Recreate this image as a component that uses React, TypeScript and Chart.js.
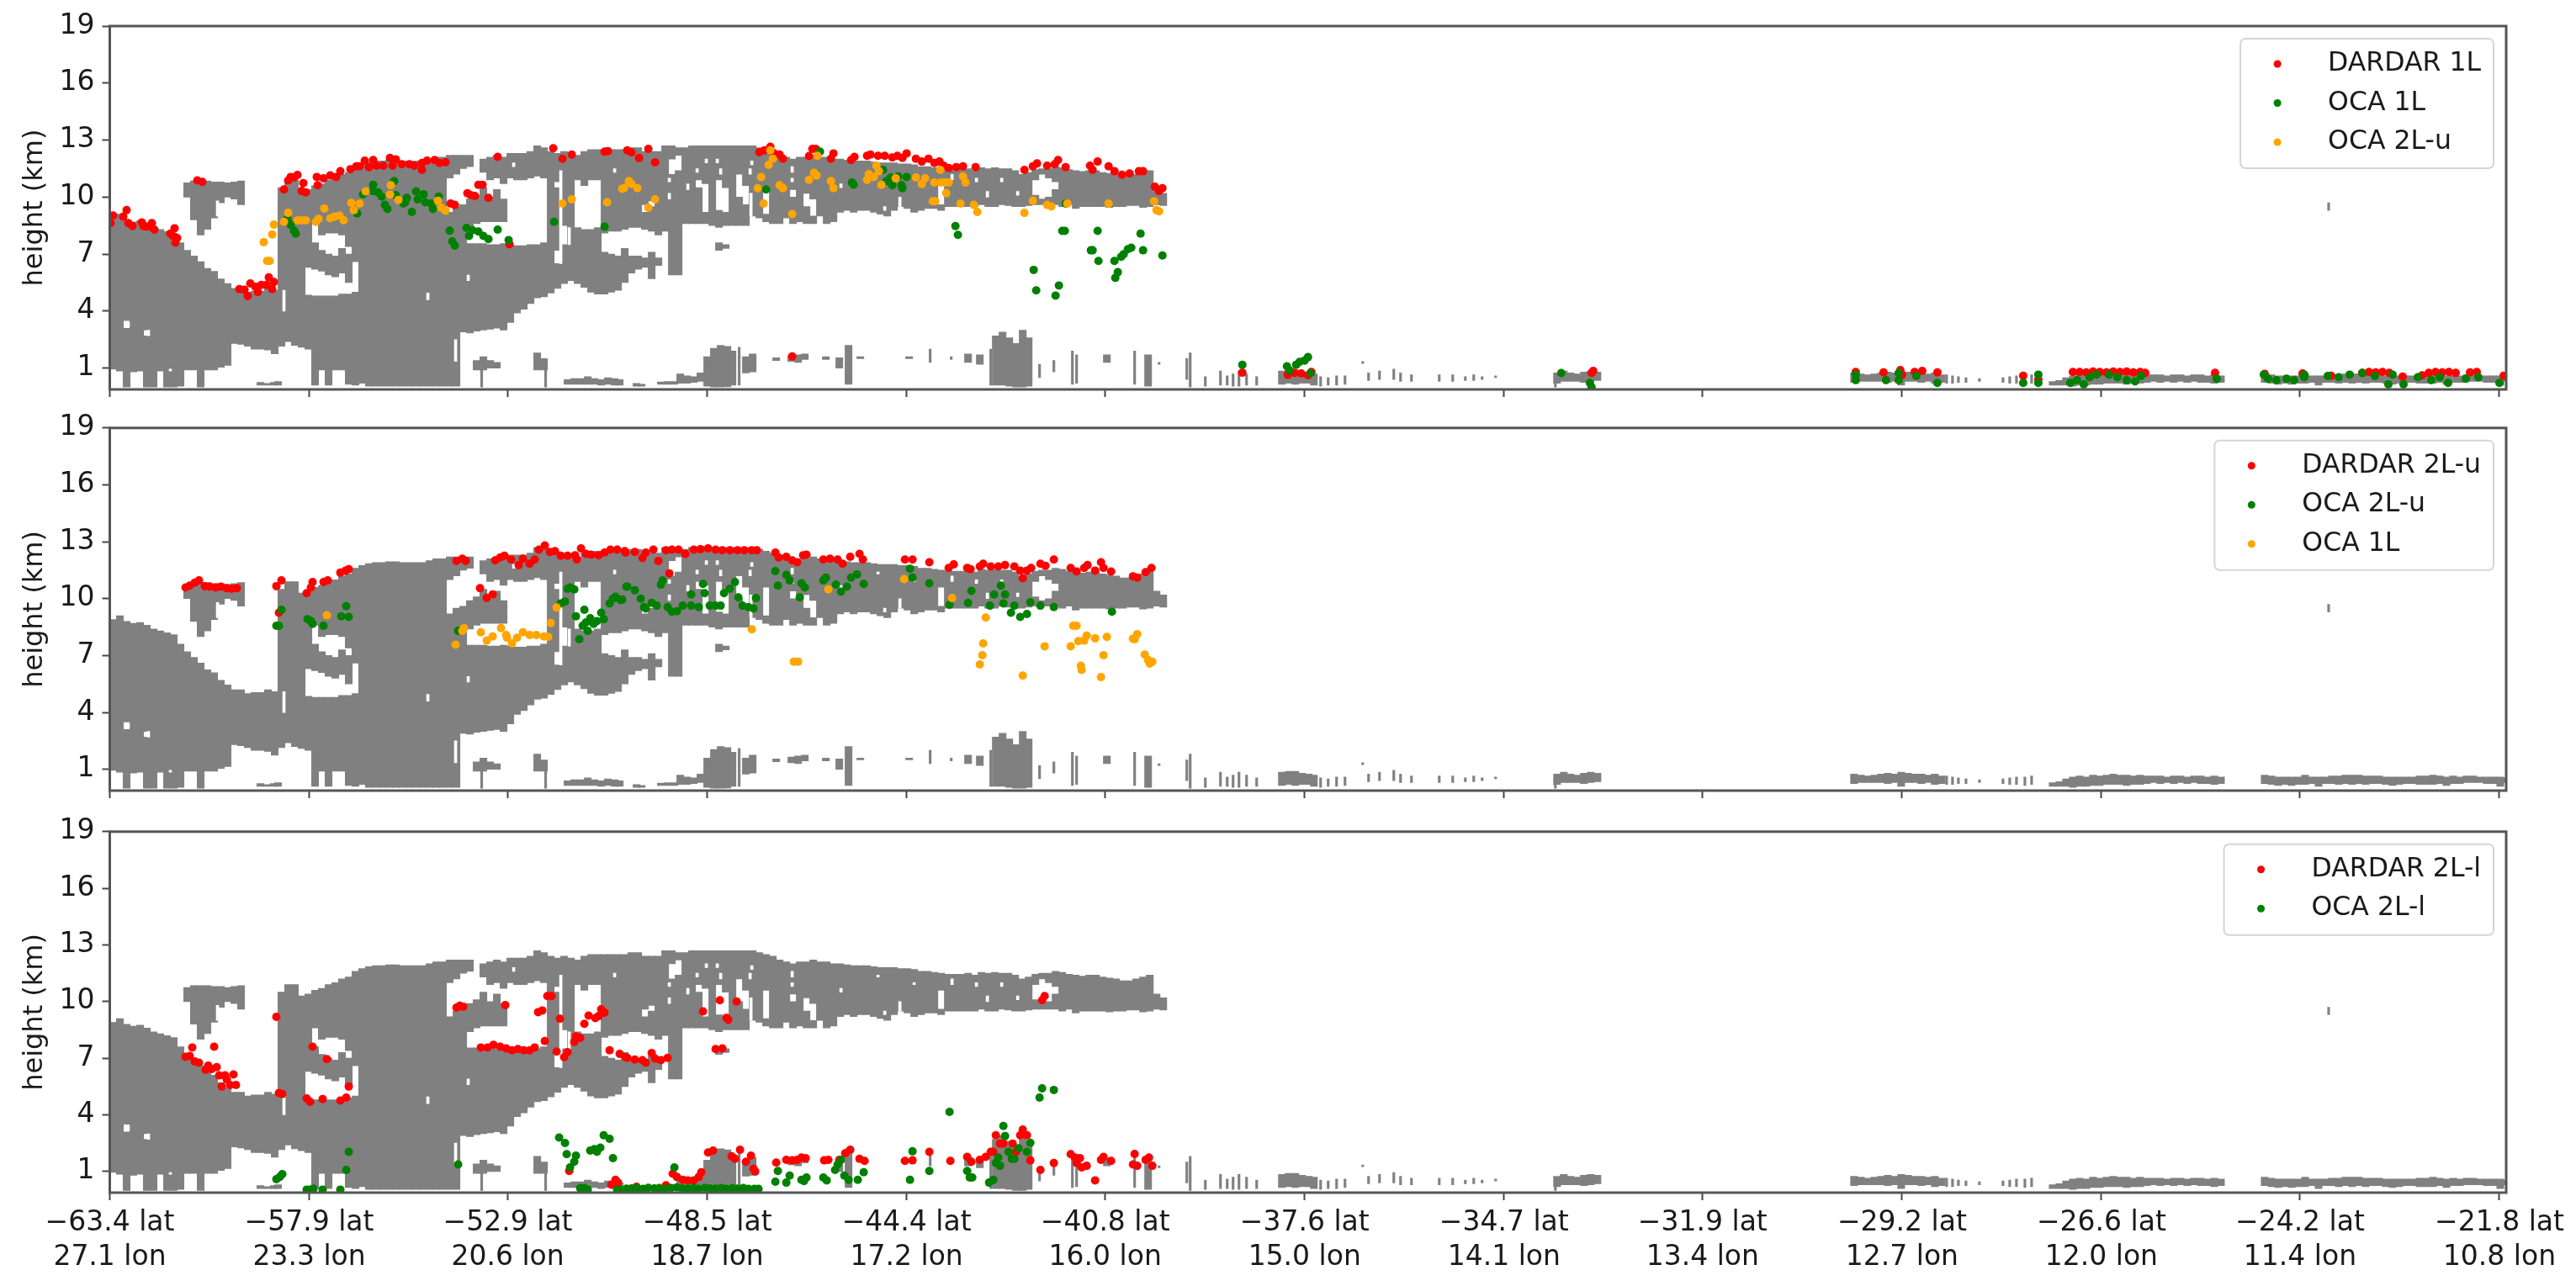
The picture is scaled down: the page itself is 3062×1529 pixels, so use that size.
import { useEffect, useRef } from 'react';
import { Chart, registerables } from 'chart.js';

Chart.register(...registerables);

const FONT = '"DejaVu Sans"';
const GREY = '#808080';
const RED = '#ff0000';
const GREEN = '#008000';
const ORANGE = '#ffa500';

const latLabels = ['−63.4 lat', '−57.9 lat', '−52.9 lat', '−48.5 lat', '−44.4 lat', '−40.8 lat', '−37.6 lat', '−34.7 lat', '−31.9 lat', '−29.2 lat', '−26.6 lat', '−24.2 lat', '−21.8 lat'];
const lonLabels = ['27.1 lon', '23.3 lon', '20.6 lon', '18.7 lon', '17.2 lon', '16.0 lon', '15.0 lon', '14.1 lon', '13.4 lon', '12.7 lon', '12.0 lon', '11.4 lon', '10.8 lon'];
const xTickValues = [0, 237, 473, 710, 947, 1183, 1420, 1657, 1893, 2130, 2367, 2603, 2840];
const yTickValues = [1, 4, 7, 10, 13, 16, 19];

// radar mask columns: profile, then low/high height pairs (km)
const mainCloud = [
  [4,0.95,8.9],[12,0.85,9.1],[20,0,3.1,3.5,8.8],[28,0.8,8.7],[36,0.85,8.75],[44,0,2.7,3,8.6],[52,0,8.4],[60,0.85,8.3],
  [68,0,8.2],[76,0,8.1],[84,0.05,7.6],[92,0.9,7.2,10,10.75],[100,0.9,6.9,8.8,10.85],[108,0,6.6,8,10.85],[116,0.9,6.25,8.3,10.85],[124,0.9,6.1,8.9,10.8],
  [132,1.05,5.7,9.7,10.8],[140,1.15,5.45,10,10.75],[148,2.3,5.2,9.9,10.8],[156,2.25,5.2,9.6,10.85],[164,2.15,5],[172,2,5.05],[180,2,5.05],[188,1.95,5.2],
  [196,1.75,5.1],[204,2.15,10.5],[212,2.4,10.9],[220,2.2,10.9],[228,2.1,10.3],[236,2,4.85,6.3,10.4],
  [244,0.1,4.8,6.2,7.6,8.6,10.6],[252,0.9,4.8,6.1,7.2,8,10.7],[260,0.1,4.8,5.9,7,8.1,10.9],[268,0.9,4.8,5.8,6.9,8.1,11],
  [276,0.9,4.9,6,7.3,8,11.2],[284,0.15,4.9,5.5,7,7.4,11.3],[292,0.1,5,6.6,11.6],[300,0.2,11.75],[308,0.05,11.85],
  [316,0.05,11.9],[324,0.05,11.9],[332,0.05,11.95],[340,0.05,11.95],[348,0.05,11.9],[356,0.05,11.9],[364,0.05,11.9],
  [372,0.05,11.9],[380,0.05,12],[388,0.05,12.1],[396,0.05,12.1],[404,0.05,9.2,11,12.2],[412,0.05,9.5,11.2,12.2],
  [420,2.9,9.6,11.5,12.2],[428,2.85,7.55,8.4,9.9,11.6,12.2],[436,0.9,1.4,2.95,7.55,8.6,10.1],[444,0.9,1.6,3,7.55,8.7,10.5,11.3,12],
  [452,1,1.4,3.05,7.5,8.7,10,10.9,12.1],[460,1,1.3,3.1,7.5,8.7,10.4,11,12.2],[468,3,7.55,8.7,9.9,10.7,12.1],[476,3.4,7.5,11,12.3],
  [484,3.9,7.45,10.9,12.3],[492,4.1,7.45,10.9,12.3],[500,4.4,7.5,11,12.4],[508,0.9,1.8,4.7,7.5,11.1,12.7],[516,0.9,1.5,4.75,7.6,11,12.6],
  [524,4.95,12.4],[532,5.2,6.5,7.2,10.5,10.8,12.3],[540,5.45,7.5,8.5,12.4],[548,5.6,12.3],[556,5.45,8.4,10.9,12.2],[564,5.25,8.3,10.6,12.4],
  [572,5,8.3,10.9,12.5],[580,4.9,8.4,10.9,12.5],[588,4.9,7.1,8.1,12.5],[596,5,7,8.2,12.5],[604,5.1,6.9,8.2,12.5],
  [612,5.5,7.3,8.3,12.5],[620,6,6.9,8.4,12.6],[628,6.2,6.9,8.4,12.6],[636,6.3,6.8,8.3,9.2,9.6,12.4],[644,5.7,7.1,8.2,9.5,9.8,12.4],
  [652,6.4,6.8,8,12.4],[660,8.2,12.7],[668,5.9,11.2,12,12.7],[676,5.9,11.4,12.2,12.6],[684,8.6,12.6],[692,8.6,12.7],[700,8.6,10.5,10.9,12.7],
  [708,8.6,9.2,10.7,12.7],[716,8.5,12.7],[724,7.2,7.6,8.4,9.3,10.9,12.7],[732,7.3,7.5,8.5,9.2,10.5,12.7],[740,8.5,12.7],[748,8.5,10,11.2,12.7],
  [756,8.5,9.6,10.6,12.7],[764,9,12.7],[772,8.9,12.6],[780,8.7,9.1,10.6,12.5],[788,8.6,12.4],[796,8.6,12.2],[804,8.9,12.1],
  [812,8.6,10,10.4,12],[820,8.7,12.1],[828,8.6,9.5,10.2,12.1],[836,8.6,9,9.9,12.2],[844,9,12.1],[852,8.6,12.1],[860,8.7,12],
  [868,9.2,12],[876,9.3,11.95],[884,9.2,11.9],[892,9.3,11.9],[900,9.3,11.9],[908,9.2,11.85],[916,9.1,11.8],[924,9,11.8],[932,9.3,11.8],
  [940,9.5,11.75],[948,9.4,11.75],[956,9.2,11.7],[964,9.3,11.6],[972,9.4,11.6],[980,9.4,11.55],[988,9.3,9.6,10.6,11.5],[996,9.5,11.45],
  [1004,9.5,11.45],[1012,9.5,11.45],[1020,9.5,11.5],[1028,9.5,11.4],[1036,9.6,11.55],[1044,9.5,11.5],[1052,9.5,11.55],[1060,9.6,11.5],
  [1068,9.55,11.5],[1076,9.5,11.4],[1084,9.5,11.2],[1092,9.55,11.3],[1100,9.6,10.1,10.9,11.45],[1108,9.6,9.9,11.2,11.5],[1116,9.6,10,11,11.5],
  [1124,9.6,10.4,10.8,11.6],[1132,9.5,11.55],[1140,9.6,11.45],[1148,9.4,11.4],[1156,9.5,11.35],[1164,9.5,11.4],[1172,9.5,11.4],[1180,9.5,11.3],
  [1188,9.45,11.25],[1196,9.5,11.2],[1204,9.5,11.1],[1212,9.55,11.1],[1220,9.55,11.2],[1228,9.45,11.3],[1236,9.5,11.4],[1244,9.6,10.4],[1252,9.55,10.2],
];

const lowCloud = [
  [179,0.1,0.25],[187,0.1,0.2],[195,0.1,0.25],[200,0.1,0.3],[544,0.15,0.4],[552,0.15,0.45],[560,0.15,0.45],[568,0.15,0.55],[576,0.15,0.45],
  [584,0.1,0.4],[592,0.15,0.5],[600,0.1,0.45],[606,0.1,0.4],[626,0.05,0.2],[632,0.05,0.15],[655,0.15,0.28],[663,0.15,0.3],[671,0.15,0.3],
  [678,0.2,0.7],[686,0.2,0.6],[694,0.25,0.55],[702,0.3,0.75],[710,0.05,1.6],[718,0,2.05],[726,0,2.2],[734,0.02,2.15],[740,0.1,1.9],
  [756,0.75,1.6],[764,0.8,1.75],[792,1.4,1.55],[810,1.35,1.65],[818,1.3,1.7],[826,1.45,1.75],[851,1.45,1.6],[867,1,1.55],[878,0.15,2.2],
  [892,1.5,1.6],[950,1.5,1.6],[1020,1.3,1.75],[1034,1.2,1.7],[1053,0.1,2.7],[1061,0.1,2.9],[1069,0.05,2.6],[1077,0,2.3],[1085,0,3],[1092,0.05,2.6],
  [1185,1.3,1.7],[1234,0.05,1.7],
  [1393,0.15,0.85],[1401,0.2,0.9],[1409,0.15,0.9],[1417,0.2,0.8],[1425,0.2,0.75],[1431,0.1,0.7],
  [1720,0.2,0.75],[1728,0.3,0.85],[1736,0.3,0.75],[1744,0.3,0.7],[1752,0.25,0.8],[1760,0.3,0.85],[1768,0.35,0.8],
  [2073,0.25,0.75],[2081,0.3,0.7],[2089,0.3,0.65],[2097,0.3,0.7],[2105,0.3,0.75],[2113,0.25,0.8],[2121,0.3,0.75],[2129,0.1,0.85],[2137,0.3,0.8],
  [2145,0.3,0.75],[2153,0.25,0.75],[2161,0.3,0.7],[2169,0.2,0.75],[2177,0.25,0.65],
  [2309,0.1,0.3],[2317,0.1,0.35],[2325,0.1,0.5],[2333,0.05,0.6],[2341,0.1,0.65],[2349,0.1,0.6],[2357,0.15,0.7],[2365,0.15,0.65],[2373,0.2,0.7],
  [2381,0.2,0.75],[2389,0.2,0.7],[2397,0.15,0.7],[2405,0.2,0.65],[2413,0.2,0.7],[2421,0.25,0.65],[2429,0.3,0.65],[2437,0.25,0.65],[2445,0.3,0.6],
  [2453,0.25,0.65],[2461,0.3,0.65],[2469,0.25,0.6],[2477,0.3,0.65],[2485,0.25,0.65],[2493,0.25,0.6],[2501,0.2,0.65],[2509,0.25,0.6],
  [2561,0.25,0.7],[2569,0.2,0.65],[2577,0.15,0.6],[2585,0.2,0.6],[2593,0.15,0.6],[2601,0.2,0.6],[2609,0.2,0.7],[2617,0.25,0.6],[2625,0.1,0.6],
  [2633,0.25,0.6],[2641,0.25,0.65],[2649,0.2,0.65],[2657,0.25,0.7],[2665,0.2,0.7],[2673,0.25,0.7],[2681,0.2,0.65],[2689,0.25,0.65],[2697,0.25,0.65],
  [2705,0.2,0.6],[2713,0.15,0.6],[2721,0.2,0.6],[2729,0.25,0.6],[2737,0.25,0.6],[2745,0.2,0.65],[2753,0.2,0.65],[2761,0.2,0.7],[2769,0.25,0.65],
  [2777,0.15,0.6],[2785,0.25,0.65],[2793,0.25,0.6],[2801,0.3,0.65],[2809,0.3,0.65],[2817,0.3,0.6],[2825,0.25,0.6],[2833,0.25,0.6],[2841,0.1,0.6],[2846,0.3,0.55],
];

// thin single-profile streaks
const wisps = [
  [442,0,1.3],[518,0,1],[748,0.1,2.1],[975,1.3,2],[1000,1.45,1.6],[1047,0.1,2],[1094,1.3,1.7],[1105,0.5,1.2],[1122,0.8,1.4],[1144,0.15,1.9],[1149,0.2,1.7],
  [1218,0.15,1.9],[1247,1.2,1.3],[1280,0.4,1.5],[1284,0,1.8],[1302,0.05,0.55],[1320,0.1,0.85],[1328,0.1,0.6],[1335,0.05,0.7],[1342,0.05,0.85],[1351,0.1,0.7],[1363,0.1,0.55],
  [1439,0.05,0.55],[1448,0.1,0.5],[1458,0.1,0.6],[1468,0.15,0.6],[1489,1.25,1.35],[1496,0.35,0.75],[1509,0.4,0.85],[1526,0.4,0.95],[1534,0.3,0.75],[1547,0.3,0.65],
  [1580,0.3,0.65],[1596,0.3,0.65],[1611,0.35,0.55],[1621,0.35,0.65],[1631,0.4,0.55],[1647,0.5,0.6],[1718,0,0.2],[2183,0.2,0.65],[2190,0.2,0.6],[2197,0.25,0.55],
  [2206,0.25,0.5],[2222,0.3,0.45],[2250,0.25,0.5],[2258,0.2,0.55],[2266,0.2,0.6],[2276,0.15,0.6],[2284,0.2,0.65],[2637,9.3,9.7],
];

// narrow cloud-free slits and specks inside the mask
const maskGaps = [
  [207,4,5.1],[128,9,9.8],[378,4.6,4.95],[426,5.6,5.9],[411,1.35,2.5],[762,9,10.2],[665,10.8,11],[709,11.8,12],[722,11.8,12],[726,11.2,11.5],[761,11.2,11.5],[763,11.7,11.9],
  [811,11.3,11.6],[811,10.8,11],[698,11.3,11.5],[687,10.4,10.7],[665,9.9,10.2],[869,10.5,10.7],[913,11.3,11.4],[1001,10.9,11.2],[1030,10.8,11],[1043,10,10.3],[1079,10.1,10.3],
  [939,9.5,10],[921,9.3,9.5],[1060,10.8,11],[956,10.9,11],[22,3.2,3.4],[46,2.7,3],[72,0.85,0.95],[536,6.5,11.4],[546,7.5,8.4],[480,11.6,11.8],[600,11.3,11.5],
];

const dardar1L = [
  [1,8.63],[4,9.03],[16,8.97],[20,9.32],[22,8.63],[27,8.48],[38,8.67],[40,8.48],[43,8.45],[50,8.63],[48,8.45],[53,8.29],[72,8.08],[77,8.36],[75,7.96],[80,7.85],[78,7.6],
  [104,10.88],[110,10.8],[154,5.16],[160,5.13],[164,4.79],[167,5.46],[173,5.28],[176,5.01],[180,5.38],[186,5.38],[189,5.78],[193,5.16],[195,5.53],[207,10.4],[212,10.88],
  [215,11.06],[219,11.03],[223,11.17],[230,10.74],[228,10.32],[233,10.25],[246,11.06],[247,10.62],[254,10.99],[262,11.14],[269,11.06],[274,11.36],[286,11.47],[293,11.62],
  [297,11.62],[303,11.92],[308,11.58],[313,11.95],[317,11.65],[325,11.65],[333,12.06],[336,11.65],[340,11.98],[347,11.73],[356,11.73],[362,11.65],[371,11.43],[371,11.8],
  [377,11.92],[386,11.95],[392,11.8],[399,11.83],[405,9.66],[410,9.59],[425,10.2],[429,10.1],[434,10.06],[438,10.65],[443,10.65],[450,9.96],[461,12.12],[475,7.52],[527,12.57],
  [538,12.02],[549,12.24],[588,12.39],[592,12.42],[615,12.46],[620,12.35],[629,12.06],[640,12.54],[648,11.83],[772,12.36],[778,12.46],[785,12.65],[789,12.32],[796,12.24],
  [800,12.02],[831,12.16],[835,12.54],[839,12.54],[857,12.02],[860,12.3],[881,11.95],[885,12.12],[900,12.17],[904,12.24],[913,12.17],[921,12.17],[930,12.09],[936,12.17],
  [942,12.06],[947,12.3],[958,12.02],[965,11.87],[973,12.02],[980,11.8],[986,11.87],[991,11.65],[997,11.53],[1006,11.58],[1014,11.62],[1029,11.58],[1087,11.43],[1097,11.62],
  [1102,11.77],[1114,11.65],[1123,11.73],[1127,11.95],[1136,11.58],[1165,11.65],[1174,11.87],[1168,11.43],[1187,11.62],[1194,11.36],[1203,11.18],[1212,11.24],[1223,11.36],
  [1228,11.36],[1242,10.55],[1251,10.47],[1247,10.32],[811,1.62],[1346,0.76],[1400,0.65],[1408,0.75],[1416,0.72],[1424,0.62],[1428,0.8],[1761,0.75],[1763,0.85],[2075,0.8],
  [2108,0.78],[2128,0.9],[2130,0.65],[2145,0.8],[2154,0.85],[2172,0.78],[2274,0.6],[2292,0.4],[2333,0.8],[2341,0.8],[2349,0.78],[2357,0.82],[2365,0.8],[2373,0.78],[2381,0.82],
  [2389,0.8],[2397,0.82],[2405,0.78],[2413,0.8],[2419,0.75],[2502,0.75],[2561,0.7],[2606,0.72],[2640,0.6],[2677,0.75],[2685,0.8],[2693,0.78],[2701,0.8],[2709,0.75],[2725,0.55],
  [2748,0.62],[2756,0.75],[2764,0.8],[2772,0.78],[2780,0.8],[2788,0.75],[2805,0.78],[2813,0.8],[2845,0.6],
];

const oca1L = [
  [211,8.85],[215,8.55],[219,8.23],[221,8.08],[294,9.14],[301,10.15],[313,10.65],[313,10.32],[319,10.25],[323,10.03],[327,9.59],[330,9.37],[338,10.84],[340,10.1],[349,9.66],
  [353,9.96],[351,9.73],[359,9.22],[364,10.3],[366,9.88],[373,10.15],[375,9.73],[382,9.66],[384,9.37],[391,10.03],[404,8.23],[407,7.67],[410,7.45],[424,8.38],[427,7.96],
  [431,8.26],[438,8.19],[444,7.96],[450,7.79],[461,8.29],[474,7.74],[528,8.7],[588,8.44],[780,10.4],[844,12.39],[882,10.77],[884,10.66],[919,11.43],[923,10.84],[928,11.03],
  [930,10.62],[937,11.09],[941,10.62],[942,10.47],[947,11.06],[1005,8.48],[1008,8.01],[1098,6.17],[1101,5.09],[1124,4.82],[1128,5.35],[1132,8.22],[1135,8.22],[1136,9.66],
  [1166,7.2],[1168,7.2],[1174,8.22],[1175,6.64],[1194,6.64],[1198,6.05],[1195,5.75],[1202,6.86],[1205,7],[1210,7.26],[1214,7.34],[1225,8.08],[1228,7.2],[1251,6.93],
  [1346,1.18],[1399,1.1],[1402,0.88],[1410,1.18],[1414,1.33],[1420,1.4],[1424,1.58],[1427,0.74],[1725,0.74],[1759,0.22],[1761,0],[2075,0.66],[2075,0.37],[2111,0.37],[2126,0.74],
  [2126,0.37],[2147,0.59],[2172,0.22],[2274,0.22],[2292,0.66],[2292,0.22],[2330,0.22],[2338,0.37],[2346,0.15],[2353,0.52],[2361,0.66],[2376,0.66],[2386,0.52],[2397,0.37],
  [2407,0.3],[2414,0.59],[2504,0.44],[2560,0.66],[2565,0.44],[2575,0.37],[2587,0.44],[2596,0.37],[2608,0.66],[2608,0.52],[2636,0.59],[2649,0.52],[2662,0.66],[2677,0.74],
  [2692,0.59],[2708,0.15],[2713,0.66],[2726,0.15],[2743,0.52],[2759,0.37],[2769,0.52],[2779,0.22],[2800,0.44],[2815,0.52],[2840,0.22],
];

const oca2Lu = [
  [183,7.63],[193,8.04],[195,8.55],[187,6.64],[190,6.64],[207,8.7],[212,9.17],[223,8.78],[228,8.78],[233,8.78],[245,8.7],[248,8.85],[255,9.4],[262,8.89],[267,8.97],[273,9.03],
  [278,8.78],[287,9.7],[290,9.32],[297,9.66],[304,10.3],[334,10.62],[333,10.13],[343,9.85],[390,9.81],[394,9.44],[399,9.29],[538,9.66],[549,9.88],[591,9.73],[609,10.44],[617,10.77],
  [611,10.47],[617,10.84],[620,10.69],[627,10.47],[640,9.44],[648,9.88],[770,10.47],[774,11.06],[777,9.66],[783,11.7],[785,12.46],[788,12.02],[796,10.62],[800,10.47],[811,9.11],
  [831,10.91],[837,11.28],[840,11.14],[841,12.17],[857,10.84],[860,10.47],[900,10.91],[902,11.21],[908,11.06],[911,11.65],[914,11.36],[917,10.65],[934,10.99],[958,11.03],[965,10.69],
  [969,10.99],[978,9.78],[981,9.78],[980,10.77],[987,11.43],[988,10.77],[993,10.77],[994,10.21],[997,10.77],[1011,9.66],[1014,11.09],[1017,10.77],[1027,9.59],[1031,9.22],[1087,9.17],
  [1097,9.81],[1114,9.59],[1119,9.51],[1138,9.66],[1187,9.66],[1241,9.78],[1244,9.32],[1247,9.25],
];

const dardar2Lu = [
  [90,10.59],[95,10.69],[101,10.84],[106,10.96],[113,10.66],[119,10.63],[126,10.59],[132,10.63],[139,10.55],[145,10.52],[151,10.55],[198,10.66],[201,9.26],[204,10.96],[234,10.29],
  [239,10.59],[241,10.88],[254,10.88],[259,10.96],[274,11.37],[280,11.47],[284,11.55],[412,11.99],[419,12.11],[423,11.99],[440,10.55],[448,10.04],[455,10.22],[458,12.02],[464,12.17],
  [469,12.26],[477,12.06],[486,11.77],[491,12.11],[499,11.84],[505,12.06],[510,12.58],[517,12.8],[523,12.46],[529,12.51],[536,12.26],[544,12.26],[553,12.29],[555,12.06],[560,12.65],
  [566,12.36],[572,12.32],[581,12.29],[588,12.43],[595,12.58],[603,12.58],[612,12.51],[613,12.43],[624,12.46],[633,12.14],[637,12.43],[646,12.58],[652,11.99],[661,12.55],[665,11.33],
  [668,12.58],[676,12.58],[684,12.36],[694,12.58],[702,12.61],[711,12.65],[720,12.58],[728,12.55],[737,12.55],[746,12.55],[754,12.55],[763,12.55],[769,12.55],[791,12.43],[795,12.17],
  [804,12.21],[811,12.02],[817,11.92],[824,12.29],[828,12.32],[848,12.06],[856,12.11],[865,12.06],[871,11.84],[880,12.21],[891,12.36],[895,12.06],[945,12.06],[954,12.06],[974,11.92],
  [997,11.62],[1003,11.81],[1019,11.62],[1023,11.55],[1034,11.7],[1038,11.84],[1047,11.7],[1056,11.7],[1064,11.77],[1075,11.7],[1082,11.48],[1085,11.08],[1090,11.48],[1095,11.62],
  [1106,11.84],[1112,11.73],[1122,12.06],[1142,11.62],[1149,11.43],[1158,11.62],[1162,11.77],[1171,11.48],[1178,11.92],[1181,11.62],[1190,11.43],[1216,11.18],[1221,11.11],[1231,11.4],[1238,11.62],
];

const oca2LuLower = [
  [198,8.57],[201,8.57],[204,9.41],[235,8.92],[239,8.82],[241,8.67],[254,8.57],[275,9.07],[281,9.6],[284,9.04],[414,8.3],[536,9.75],[541,9.85],[544,10.52],[547,10.59],[552,10.49],
  [554,9.07],[558,7.86],[562,8.57],[564,9.41],[566,8.75],[568,8.3],[571,8.97],[575,8.67],[579,8.82],[584,9.26],[587,8.92],[594,9.75],[598,10],[601,10.1],[607,9.93],[615,10.63],
  [609,9.96],[614,10.63],[624,10.44],[631,10],[635,9.56],[637,9.48],[644,9.78],[650,9.63],[655,10.74],[657,10.96],[663,9.56],[668,9.31],[674,9.34],[681,9.63],[691,10.22],[691,9.63],
  [700,9.56],[705,10.78],[707,10.29],[713,9.63],[720,9.63],[726,9.63],[730,10.29],[737,10.52],[743,10.88],[747,10.07],[752,9.63],[759,9.56],[765,9.48],[768,10.03],[791,11.45],[794,10.69],
  [804,11.25],[808,10.96],[820,10.07],[822,10.81],[826,10.59],[848,10.96],[851,11.11],[863,10.74],[869,10.37],[876,10.63],[881,11.11],[888,11.28],[896,10.78],[951,11.58],[954,11.11],
  [974,10.81],[998,9.68],[1020,9.78],[1024,10.41],[1046,9.63],[1051,10.22],[1059,10.69],[1062,9.75],[1064,10.22],[1071,9.26],[1075,9.63],[1082,9.04],[1090,9.19],[1094,9.81],[1106,9.63],[1122,9.56],[1191,9.31],
];

const oca1LPanel2 = [
  [258,9.12],[411,7.57],[419,8.3],[421,8.45],[441,8.23],[448,7.79],[455,8.01],[465,8.45],[471,8.08],[472,7.94],[478,7.64],[484,7.94],[491,8.23],[499,8.08],[507,8.08],[516,8.01],[521,7.98],
  [524,8.72],[531,9.53],[763,8.38],[813,6.68],[818,6.68],[854,10.49],[944,11.03],[1001,10.03],[1034,6.53],[1037,7.02],[1038,7.64],[1041,9],[1085,5.94],[1111,7.49],[1142,7.49],[1145,8.57],
  [1149,8.57],[1151,7.76],[1154,6.46],[1155,6.24],[1158,7.79],[1161,8.05],[1171,7.91],[1178,5.87],[1181,7.02],[1185,7.98],[1216,7.89],[1218,7.86],[1221,8.13],[1230,7.05],[1234,6.76],[1236,6.58],[1239,6.68],
];

const dardar2Ll = [
  [90,7.08],[95,7.12],[98,7.57],[101,6.83],[106,6.76],[114,6.39],[117,6.61],[121,6.43],[124,7.61],[127,6.53],[130,6.09],[133,5.5],[137,6.09],[139,5.87],[143,5.58],[147,6.14],[150,5.58],
  [198,9.19],[201,5.16],[205,5.1],[234,4.87],[238,4.69],[241,7.61],[253,4.84],[258,6.95],[274,4.76],[281,4.91],[284,5.5],[412,9.68],[416,9.78],[420,9.73],[441,7.57],[449,7.57],[456,7.71],
  [464,7.61],[470,9.81],[471,7.52],[478,7.42],[485,7.49],[492,7.42],[499,7.42],[505,7.57],[509,9.44],[514,9.53],[517,7.91],[520,10.29],[525,10.29],[531,7.35],[535,9.09],[540,7.05],[544,7.32],
  [546,1.03],[552,7.86],[554,8.16],[559,8.08],[564,8.82],[569,9.26],[577,9.12],[581,9.23],[584,9.59],[588,9.41],[594,7.42],[596,0.3],[601,0.56],[604,0.41],[606,7.23],[615,7.02],
  [613,7.05],[624,6.93],[633,6.9],[637,6.76],[644,7.27],[648,6.98],[655,6.9],[663,7.02],[705,9.48],[720,7.49],[725,10.07],[728,7.52],[733,9.14],[735,9.04],[745,10],[1108,10.07],[1111,10.29],
  [626,0.19],[661,0.27],[669,0.88],[674,0.71],[681,0.56],[687,0.53],[694,0.53],[700,0.71],[703,0.96],[711,2.01],[717,2.11],[739,1.81],[743,1.67],[749,2.15],[756,1.52],[762,1.84],[765,1.15],
  [767,1],[792,1.47],[804,1.62],[811,1.59],[817,1.62],[822,1.74],[827,1.71],[849,1.59],[854,1.62],[867,1.62],[874,1.96],[880,2.15],[891,1.67],[897,1.56],[945,1.56],[954,1.59],[974,2.04],[999,1.56],
  [1019,1.77],[1024,1.52],[1034,1.62],[1041,1.77],[1047,2.04],[1050,2.04],[1053,2.92],[1058,2.48],[1062,2.48],[1073,2.48],[1077,2.04],[1082,2.92],[1085,3.22],[1090,2.92],[1094,1.59],[1106,1.08],
  [1122,1.45],[1142,1.92],[1147,1.74],[1149,1.45],[1153,1.71],[1155,1.22],[1161,1.3],[1171,0.53],[1178,1.62],[1181,1.77],[1190,1.56],[1216,1.37],[1218,1.93],[1221,1.3],[1231,1.62],[1235,1.74],[1239,1.3],
];

const oca2Ll = [
  [198,0.59],[202,0.71],[205,0.86],[234,0.04],[238,0.04],[242,0.09],[253,0.04],[274,0.04],[281,1.08],[284,2.04],[414,1.37],[534,2.8],[541,2.51],[543,1.92],[547,1.22],[552,1.52],[554,1.84],
  [559,0.12],[564,0.12],[568,0.04],[571,2.11],[576,2.18],[579,2.04],[583,2.26],[587,2.92],[594,2.73],[598,1.71],[603,0.04],[607,0.04],[614,0.09],
  [620,0.1],[627,0.12],[634,0.08],[640,0.14],[647,0.1],[653,0.12],[660,0.08],[667,0.13],[674,0.16],[680,0.1],[687,0.09],[694,0.12],[700,0.08],[707,0.14],[713,0.1],[720,0.09],[727,0.12],[733,0.08],
  [740,0.11],[746,0.09],[753,0.12],[759,0.08],[766,0.08],[771,0.08],
  [671,1.22],[791,0.46],[794,1.03],[804,0.41],[808,0.78],[822,0.56],[825,0.49],[828,0.68],[848,0.68],[852,0.53],[862,1.08],[865,1.37],[869,1.62],[873,0.78],[878,0.56],[889,0.56],[896,0.96],
  [951,0.56],[954,2.07],[974,1.03],[998,4.16],[1019,1.03],[1022,0.68],[1025,0.68],[1045,0.41],[1050,0.56],[1053,1.45],[1056,1.74],[1058,1.3],[1062,3.41],[1064,2.88],[1068,2.04],[1072,1.67],
  [1075,1.67],[1080,2.23],[1090,2.04],[1094,2.52],[1105,4.91],[1108,5.4],[1122,5.32],
];

const toBars = (columns: number[][]) =>
  columns.flatMap(([x, ...heights]) => {
    const bars: { x: number; y: number[] }[] = [];
    for (let i = 0; i < heights.length; i += 2) bars.push({ x, y: [heights[i], heights[i + 1]] });
    return bars;
  });

type Series = { label: string; color: string; points: number[][] };

type PanelProps = {
  top: number;
  height: number;
  plotTop: number;
  plotBottom: number;
  labels: boolean;
  series: Series[];
};

function Panel({ top, height, plotTop, plotBottom, labels, series }: PanelProps) {
  const canvasRef = useRef<HTMLCanvasElement>(null);

  useEffect(() => {
    if (!canvasRef.current) return;

    // spines and the matplotlib-style legend box in the upper right corner
    const frame = {
      id: 'frame',
      afterDraw(chart: Chart) {
        const { ctx, chartArea: a } = chart;
        ctx.save();
        ctx.strokeStyle = '#555555';
        ctx.lineWidth = 3;
        ctx.strokeRect(a.left, a.top, a.right - a.left, a.bottom - a.top);

        ctx.font = `31.5px ${FONT}`;
        const widest = Math.max(...series.map((s) => ctx.measureText(s.label).width));
        const w = 104 + widest + 15;
        const h = 16 + series.length * 46;
        const bx = a.right - 15 - w;
        const by = a.top + 15;
        ctx.beginPath();
        ctx.roundRect(bx, by, w, h, 6);
        ctx.fillStyle = 'rgba(255,255,255,0.8)';
        ctx.fill();
        ctx.strokeStyle = '#d5d5d5';
        ctx.lineWidth = 2;
        ctx.stroke();
        ctx.textBaseline = 'middle';
        series.forEach((s, i) => {
          const y = by + 30 + i * 46.5;
          ctx.beginPath();
          ctx.arc(bx + 44, y, 4.5, 0, Math.PI * 2);
          ctx.fillStyle = s.color;
          ctx.fill();
          ctx.fillStyle = '#1a1a1a';
          ctx.fillText(s.label, bx + 104, y);
        });
        ctx.restore();
      },
    };

    const chart = new Chart(canvasRef.current, {
      type: 'scatter',
      data: {
        datasets: [
          ...series.map((s, i) => ({
            label: s.label,
            data: s.points,
            backgroundColor: s.color,
            pointRadius: 5,
            pointBorderWidth: 0,
            clip: 0,
            order: series.length - i,
          })),
          { type: 'bar', data: toBars(maskGaps), backgroundColor: '#ffffff', barThickness: 3, borderWidth: 0, stack: 'mask', order: 9 },
          { type: 'bar', data: toBars(mainCloud), backgroundColor: GREY, barThickness: 8.4, borderWidth: 0, stack: 'mask', order: 10 },
          { type: 'bar', data: toBars(lowCloud), backgroundColor: GREY, barThickness: 8.4, borderWidth: 0, stack: 'mask', order: 10 },
          { type: 'bar', data: toBars(wisps), backgroundColor: GREY, barThickness: 2.5, borderWidth: 0, stack: 'mask', order: 10 },
        ],
      } as any,
      options: {
        responsive: false,
        animation: false,
        devicePixelRatio: 1,
        layout: { padding: { top: plotTop, right: 83, left: 0, bottom: 0 } },
        plugins: { legend: { display: false }, tooltip: { enabled: false } },
        scales: {
          x: {
            type: 'linear',
            min: 0,
            max: 2848,
            offset: false,
            stacked: true,
            afterBuildTicks: (s: any) => {
              s.ticks = xTickValues.map((value) => ({ value }));
            },
            afterFit: (s: any) => {
              s.height = height - plotBottom;
            },
            border: { display: false },
            grid: { offset: false, drawOnChartArea: false, tickLength: 9, tickWidth: 2, tickColor: '#444444' },
            ticks: {
              autoSkip: false,
              maxRotation: 0,
              padding: 6,
              color: '#1a1a1a',
              font: { family: FONT, size: 33, lineHeight: 1.27 },
              callback: (_v: any, i: number) => (labels ? [latLabels[i], lonLabels[i]] : ''),
            },
          },
          y: {
            min: -0.12,
            max: 19,
            stacked: false,
            beginAtZero: false,
            afterBuildTicks: (s: any) => {
              s.ticks = yTickValues.map((value) => ({ value }));
            },
            afterFit: (s: any) => {
              s.width = 130.5;
            },
            border: { display: false },
            grid: { drawOnChartArea: false, tickLength: 9, tickWidth: 2, tickColor: '#444444' },
            ticks: { padding: 9, color: '#1a1a1a', font: { family: FONT, size: 33 } },
            title: {
              display: true,
              text: 'height (km)',
              color: '#1a1a1a',
              font: { family: FONT, size: 32 },
              padding: { top: 22, bottom: 0 },
            },
          },
        },
      } as any,
      plugins: [frame],
    });

    return () => chart.destroy();
  }, [top, height, plotTop, plotBottom, labels, series]);

  return (
    <canvas
      ref={canvasRef}
      width={3062}
      height={height}
      style={{ position: 'absolute', left: 0, top, width: 3062, height, filter: 'blur(0.7px)' }}
    />
  );
}

const panel1: Series[] = [
  { label: 'DARDAR 1L', color: RED, points: dardar1L },
  { label: 'OCA 1L', color: GREEN, points: oca1L },
  { label: 'OCA 2L-u', color: ORANGE, points: oca2Lu },
];
const panel2: Series[] = [
  { label: 'DARDAR 2L-u', color: RED, points: dardar2Lu },
  { label: 'OCA 2L-u', color: GREEN, points: oca2LuLower },
  { label: 'OCA 1L', color: ORANGE, points: oca1LPanel2 },
];
const panel3: Series[] = [
  { label: 'DARDAR 2L-l', color: RED, points: dardar2Ll },
  { label: 'OCA 2L-l', color: GREEN, points: oca2Ll },
];

export default function App() {
  return (
    <div style={{ position: 'absolute', left: 0, top: 0, width: 3062, height: 1529, background: '#ffffff', overflow: 'hidden' }}>
      <Panel top={0} height={520} plotTop={31} plotBottom={463} labels={false} series={panel1} />
      <Panel top={480} height={520} plotTop={28.5} plotBottom={460} labels={false} series={panel2} />
      <Panel top={960} height={569} plotTop={27} plotBottom={458} labels series={panel3} />
    </div>
  );
}
